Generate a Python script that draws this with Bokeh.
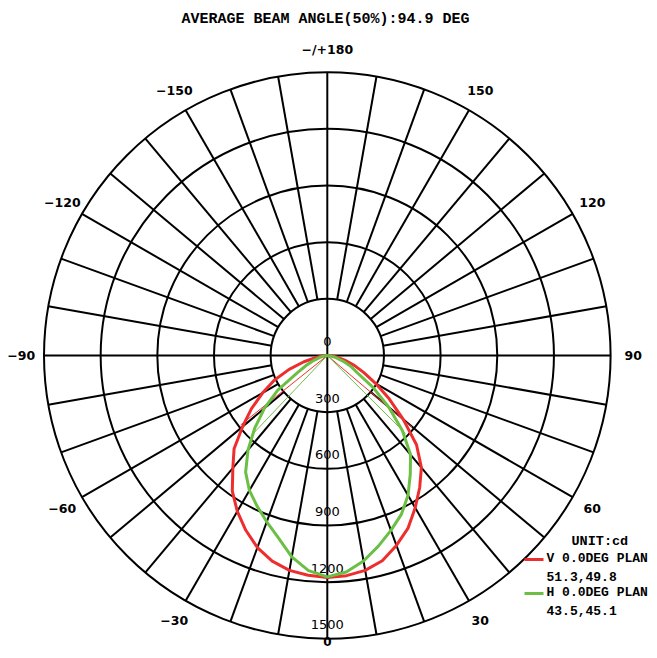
import numpy as np
from bokeh.plotting import figure
from bokeh.models import Range1d
from bokeh.core.properties import value
from bokeh.embed import file_html
from bokeh.resources import INLINE

# ---------------- data ----------------
title_text = "AVERAGE BEAM ANGLE(50%):94.9 DEG"
ring_values = [300, 600, 900, 1200, 1500]
ring_label_values = [0, 300, 600, 900, 1200, 1500]
ring_labels = ["0", "300", "600", "900", "1200", "1500"]
angle_ticks = [30, 60, 90, 120, 150, 180, -150, -120, -90, -60, -30]
angle_labels = ["30", "60", "90", "120", "150", "\u2212/+180",
                "\u2212150", "\u2212120", "\u221290", "\u221260", "\u221230"]
bottom_label = "0"

angles = list(range(-90, 95, 5))
v_plane = [0, 20, 60, 128, 215, 310, 395, 490, 585, 698, 778, 877, 953, 1021,
           1082, 1127, 1155, 1168, 1175, 1170, 1155, 1125, 1070, 1010, 931,
           853, 775, 668, 524, 400, 295, 212, 152, 95, 55, 20, 0]
h_plane = [0, 8, 22, 40, 75, 122, 184, 320, 434, 543, 653, 754, 825, 880,
           937, 1000, 1083, 1143, 1172, 1151, 1105, 1045, 985, 928, 855,
           766, 686, 562, 424, 297, 185, 139, 90, 50, 25, 8, 0]
v_beam_angles = [-51.3, 49.8]
h_beam_angles = [-43.5, 45.1]
v_peak = 1175
h_peak = 1172
unit_text = "UNIT:cd"
legend_names = ["V 0.0DEG PLAN", "H 0.0DEG PLAN"]
legend_values = ["51.3,49.8", "43.5,45.1"]

RED = "#ee2e2e"
GREEN = "#6cbf45"

# ---------------- geometry ----------------
W, H = 649, 650
K = 283.3 / 1500.0      # px per cd
CX, CY = 326.8, 355.0   # centre in picture px


def px(xp, yp):
    """picture pixel -> data coords"""
    return (xp - CX) / K, (CY - yp) / K


def polar(theta_deg, r):
    t = np.radians(np.asarray(theta_deg, dtype=float))
    r = np.asarray(r, dtype=float)
    return r * np.sin(t), -r * np.cos(t)


p = figure(width=W, height=H, output_backend="svg", toolbar_location=None,
           x_range=Range1d(-CX / K, (W - CX) / K),
           y_range=Range1d(-(H - CY) / K, CY / K),
           x_axis_type=None, y_axis_type=None, min_border=0)
p.grid.visible = False
p.outline_line_color = None
p.background_fill_color = "white"
p.border_fill_color = "white"

# rings
p.circle(x=[0] * len(ring_values), y=[0] * len(ring_values), radius=ring_values,
         fill_color=None, line_color="black", line_width=2)

# spokes every 10 degrees between inner and outer ring
spokes = [a for a in range(-170, 190, 10) if a % 90 != 0]
x0, y0 = polar(spokes, [ring_values[0]] * len(spokes))
x1, y1 = polar(spokes, [ring_values[-1]] * len(spokes))
p.segment(x0=x0, y0=y0, x1=x1, y1=y1, line_color="black", line_width=2)

# full cross lines
cross = [0, 90]
xa, ya = polar(cross, [ring_values[-1]] * 2)
p.segment(x0=-xa, y0=-ya, x1=xa, y1=ya, line_color="black", line_width=2)

# ring labels
p.text(x=[0] * len(ring_label_values), y=[-v for v in ring_label_values],
       text=ring_labels, text_font=value("DejaVu Sans"), text_font_size="13px",
       text_align="center", text_baseline="middle", y_offset=-14,
       text_color="black")

# angle labels
lab_r = 306.0 / K
ax_, ay_ = polar(angle_ticks, [lab_r] * len(angle_ticks))
p.text(x=ax_, y=ay_, text=angle_labels, text_font=value("DejaVu Sans"),
       text_font_size="12.5px", text_font_style="bold", text_align="center",
       text_baseline="middle", text_color="black")
bx0, by0 = px(CX, 641)
p.text(x=[bx0], y=[by0], text=[bottom_label], text_font=value("DejaVu Sans"),
       text_font_size="12px", text_font_style="bold", text_align="center",
       text_baseline="middle", text_color="black")

# beam angle lines
bx, by = polar(v_beam_angles, [v_peak / 2] * 2)
p.segment(x0=[0, 0], y0=[0, 0], x1=bx, y1=by, line_color=RED, line_width=1)
gx, gy = polar(h_beam_angles, [h_peak / 2] * 2)
p.segment(x0=[0, 0], y0=[0, 0], x1=gx, y1=gy, line_color=GREEN, line_width=1)

# curves
vx, vy = polar(angles, v_plane)
p.line(vx, vy, line_color=RED, line_width=3, line_join="round")
hx, hy = polar(angles, h_plane)
p.line(hx, hy, line_color=GREEN, line_width=3, line_join="round")

# title
tx, ty = px(325, 19)
p.text(x=[tx], y=[ty], text=[title_text], text_font=value("Liberation Mono"),
       text_font_size="15px", text_font_style="bold", text_align="center",
       text_baseline="middle", text_color="black")

# legend
ux, uy = px(571, 541)
p.text(x=[ux], y=[uy], text=[unit_text], text_font=value("Liberation Mono"),
       text_font_size="13.5px", text_font_style="bold", text_align="left",
       text_baseline="middle", text_color="black")
rows_y = [558, 576, 592, 610]
lx = [px(546, yy)[0] for yy in rows_y]
ly = [px(546, yy)[1] for yy in rows_y]
p.text(x=lx, y=ly, text=[legend_names[0], legend_values[0], legend_names[1], legend_values[1]],
       text_font=value("Liberation Mono"), text_font_size="13px",
       text_font_style="bold", text_align="left", text_baseline="middle",
       text_color="black")
sx0, sy0 = px(524, 559)
sx1, _ = px(543, 559)
_, sy1 = px(524, 593)
p.segment(x0=[sx0, sx0], y0=[sy0, sy1], x1=[sx1, sx1], y1=[sy0, sy1],
          line_color=[RED, GREEN], line_width=3)

open("out.html", "w").write(file_html(p, INLINE))
